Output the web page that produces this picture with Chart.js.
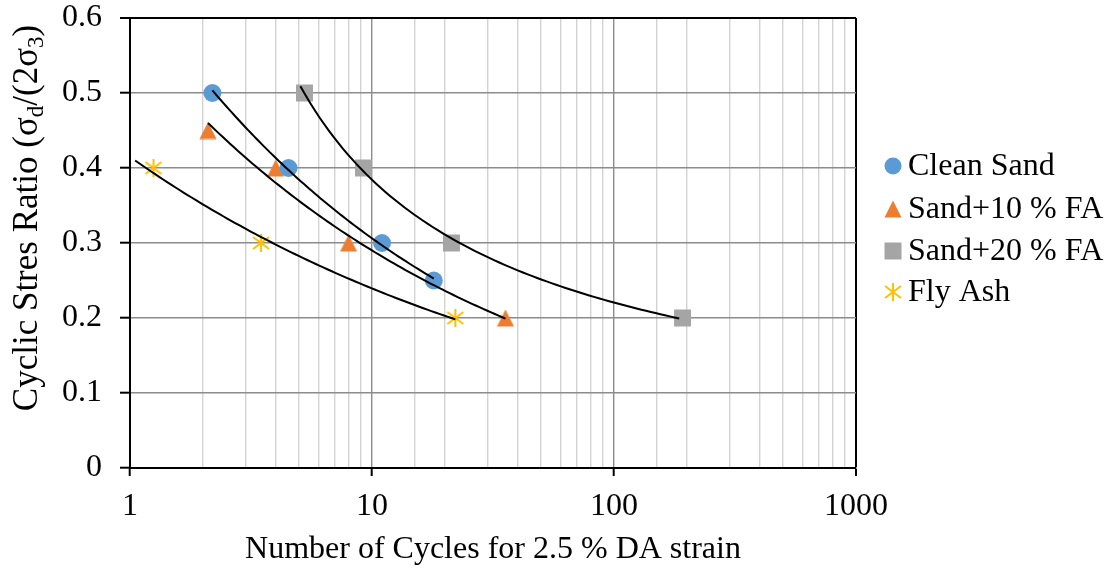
<!DOCTYPE html>
<html>
<head>
<meta charset="utf-8">
<script src="https://cdn.jsdelivr.net/npm/chart.js@4.4.1/dist/chart.umd.min.js"></script>
<style>
  html, body { margin: 0; padding: 0; background: #fff; }
  #wrap { width: 1109px; height: 570px; }
</style>
</head>
<body>
<div id="wrap"><canvas id="c" width="1109" height="570"></canvas></div>
<script>
// Cycles to 2.5 % double-amplitude strain vs cyclic stress ratio
const seriesNames = ['Clean Sand', 'Sand+10 % FA', 'Sand+20 % FA', 'Fly Ash'];

const cleanSandCycles = [2.19, 4.52, 11.0, 18.0];
const cleanSandCSR    = [0.50, 0.40, 0.30, 0.25];

const sand10Cycles = [2.10, 4.0, 8.0, 35.6];
const sand10CSR    = [0.45, 0.40, 0.30, 0.20];

const sand20Cycles = [5.26, 9.22, 21.3, 192];
const sand20CSR    = [0.50, 0.40, 0.30, 0.20];

const flyAshCycles = [1.25, 3.48, 22.1];
const flyAshCSR    = [0.40, 0.30, 0.20];

// fitted trend curves: model type and the span of cycles each curve covers
const trendModel = ['power', 'power', 'lnpower', 'power'];
const trendFrom  = [2.19, 2.10, 5.06, 1.05];
const trendTo    = [18.0, 35.6, 186, 22.1];

const xTickLabels = [1, 10, 100, 1000];
const yMin = 0, yMax = 0.6, yStep = 0.1;

const colors = ['#5B9BD5', '#ED7D31', '#A5A5A5', '#FFC000'];
const FONT = "'Liberation Serif', 'Times New Roman', serif";
const FS = 32;

const cyclesList = [cleanSandCycles, sand10Cycles, sand20Cycles, flyAshCycles];
const csrList = [cleanSandCSR, sand10CSR, sand20CSR, flyAshCSR];

// least squares on transformed coordinates
function fitLine(us, vs) {
  const n = us.length;
  const mu = us.reduce((a, b) => a + b, 0) / n;
  const mv = vs.reduce((a, b) => a + b, 0) / n;
  let sxx = 0, sxy = 0;
  for (let i = 0; i < n; i++) { sxx += (us[i] - mu) ** 2; sxy += (us[i] - mu) * (vs[i] - mv); }
  const b = sxy / sxx;
  return { a: mv - b * mu, b };
}
function makeTrend(model, xs, ys) {
  const ly = ys.map(Math.log);
  if (model === 'lnpower') {
    const f = fitLine(xs.map(x => Math.log(Math.log(x))), ly);
    return x => Math.exp(f.a + f.b * Math.log(Math.log(x)));
  }
  const f = fitLine(xs.map(Math.log), ly);
  return x => Math.exp(f.a + f.b * Math.log(x));
}
function sampleTrend(i) {
  const fn = makeTrend(trendModel[i], cyclesList[i], csrList[i]);
  const l0 = Math.log10(trendFrom[i]), l1 = Math.log10(trendTo[i]);
  const pts = [];
  const steps = 80;
  for (let k = 0; k <= steps; k++) {
    const x = Math.pow(10, l0 + (l1 - l0) * k / steps);
    pts.push({ x, y: fn(x) });
  }
  return pts;
}

// marker images
function triangleImage(color) {
  const c = document.createElement('canvas'); c.width = 18; c.height = 18;
  const g = c.getContext('2d');
  g.fillStyle = color; g.beginPath();
  g.moveTo(9, 0.5); g.lineTo(17.5, 17.5); g.lineTo(0.5, 17.5); g.closePath(); g.fill();
  return c;
}
function asteriskImage(color) {
  const c = document.createElement('canvas'); c.width = 20; c.height = 20;
  const g = c.getContext('2d');
  g.strokeStyle = color; g.lineWidth = 2; g.lineCap = 'butt';
  g.beginPath();
  g.moveTo(10, 1); g.lineTo(10, 19);
  g.moveTo(2, 4); g.lineTo(18, 16);
  g.moveTo(18, 4); g.lineTo(2, 16);
  g.stroke();
  return c;
}
const pointStyles = ['circle', triangleImage(colors[1]), 'rect', asteriskImage(colors[3])];
const pointRadii = [9, 9, 12, 10];

const datasets = [];
for (let i = 0; i < 4; i++) {
  datasets.push({
    type: 'line', label: seriesNames[i] + ' trend', data: sampleTrend(i),
    borderColor: '#000', borderWidth: 2, pointRadius: 0, tension: 0, fill: false, order: 0
  });
}
for (let i = 0; i < 4; i++) {
  datasets.push({
    type: 'scatter', label: seriesNames[i],
    data: cyclesList[i].map((x, j) => ({ x, y: csrList[i][j] })),
    pointStyle: pointStyles[i], pointRadius: pointRadii[i], pointHoverRadius: pointRadii[i],
    backgroundColor: colors[i], borderColor: colors[i], borderWidth: 0, order: 1
  });
}

const isDecade = v => Math.abs(Math.log10(v) - Math.round(Math.log10(v))) < 1e-9;
const near = (a, b) => Math.abs(a - b) < 1e-6;

// rotated y-axis title with subscripts
const yTitlePlugin = {
  id: 'yTitle',
  afterDraw(chart) {
    const ctx = chart.ctx;
    const parts = [
      ['Cyclic Stres Ratio (σ', false], ['d', true], ['/(2σ', false], ['3', true], [')', false]
    ];
    const big = '35px ' + FONT, small = '23px ' + FONT;
    ctx.save();
    let total = 0;
    parts.forEach(p => { ctx.font = p[1] ? small : big; total += ctx.measureText(p[0]).width; });
    ctx.translate(37, 218);
    ctx.rotate(-Math.PI / 2);
    ctx.fillStyle = '#000';
    ctx.textBaseline = 'alphabetic';
    ctx.textAlign = 'left';
    let x = -total / 2;
    parts.forEach(p => {
      ctx.font = p[1] ? small : big;
      ctx.fillText(p[0], x, p[1] ? 6 : 0);
      x += ctx.measureText(p[0]).width;
    });
    ctx.restore();
  }
};

// legend to the right of the plot
const legendPlugin = {
  id: 'sideLegend',
  afterDraw(chart) {
    const ctx = chart.ctx;
    const ys = [166, 209, 251, 292];
    ctx.save();
    for (let i = 0; i < 4; i++) {
      const cx = 893, cy = ys[i];
      ctx.fillStyle = colors[i];
      const st = pointStyles[i];
      if (st === 'circle') {
        ctx.beginPath(); ctx.arc(cx, cy, 8.5, 0, Math.PI * 2); ctx.fill();
      } else if (st === 'rect') {
        ctx.fillRect(cx - 8.5, cy - 8.5, 17, 17);
      } else {
        ctx.drawImage(st, cx - st.width / 2, cy - st.height / 2);
      }
      ctx.fillStyle = '#000';
      ctx.font = FS + 'px ' + FONT;
      ctx.textBaseline = 'middle';
      ctx.textAlign = 'left';
      ctx.fillText(seriesNames[i], 908, cy + 1);
    }
    ctx.restore();
  }
};

new Chart(document.getElementById('c'), {
  data: { datasets },
  options: {
    responsive: false,
    devicePixelRatio: 1,
    animation: false,
    layout: { padding: { left: 0, right: 253, top: 0, bottom: 0 } },
    plugins: { legend: { display: false }, tooltip: { enabled: false } },
    scales: {
      x: {
        type: 'logarithmic', position: 'bottom', min: 1, max: 1000,
        afterFit(s) { s.height = 102; },
        border: { color: '#000', width: 2 },
        grid: {
          color: c => { const v = c.tick && c.tick.value; return near(v, 1000) ? '#000' : (isDecade(v) ? '#8c8c8c' : '#d3d3d3'); },
          lineWidth: c => { const v = c.tick && c.tick.value; return near(v, 1000) ? 2 : 1.4; },
          tickColor: c => { const v = c.tick && c.tick.value; return isDecade(v) ? '#000' : 'rgba(0,0,0,0)'; },
          tickLength: 8, tickWidth: 2
        },
        ticks: {
          autoSkip: false, maxRotation: 0, padding: 11, color: '#000',
          font: { family: FONT, size: FS },
          callback: v => xTickLabels.some(t => near(t, v)) ? String(v) : ''
        },
        title: {
          display: true, text: 'Number of Cycles for 2.5 % DA strain', color: '#000',
          font: { family: FONT, size: FS }, padding: { top: 0, bottom: 1 }
        }
      },
      y: {
        type: 'linear', min: yMin, max: yMax,
        afterFit(s) { s.width = 130; },
        border: { color: '#000', width: 2 },
        grid: {
          color: c => near(c.tick.value, yMax) ? '#000' : '#8c8c8c',
          lineWidth: c => near(c.tick.value, yMax) ? 2 : 1.4,
          tickColor: '#000', tickLength: 10, tickWidth: 2
        },
        ticks: {
          stepSize: yStep, padding: 18, color: '#000',
          font: { family: FONT, size: FS, lineHeight: 0 }
        }
      }
    }
  },
  plugins: [yTitlePlugin, legendPlugin]
});
</script>
</body>
</html>
